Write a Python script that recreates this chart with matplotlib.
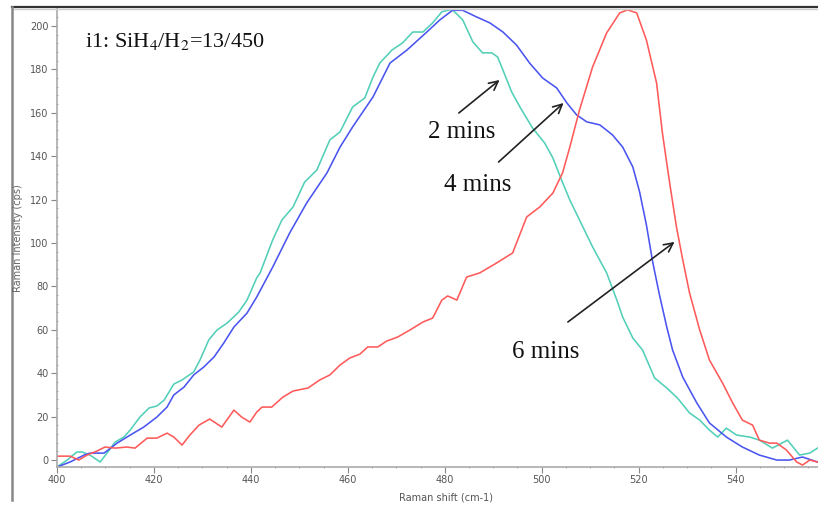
import matplotlib
matplotlib.use("Agg")
import matplotlib.pyplot as plt
from matplotlib.lines import Line2D
from matplotlib.ticker import MultipleLocator

# Raman spectra after 2, 4 and 6 minutes of deposition
shift_2min = [400.0, 402.1, 404.1, 405.2, 406.8, 408.9, 410.3, 412.0, 413.8, 415.1,
              417.1, 419.0, 420.6, 422.1, 424.1, 425.8, 428.2, 429.5, 431.3, 433.0,
              435.1, 437.5, 439.2, 441.2, 441.9, 444.5, 446.4, 448.7, 451.1, 453.6,
              456.3, 458.4, 461.0, 463.5, 465.2, 466.6, 469.1, 471.3, 473.4, 475.5,
              477.5, 479.4, 481.0, 481.6, 483.7, 485.8, 487.8, 489.7, 490.9, 492.0,
              493.8, 495.5, 498.1, 500.6, 502.3, 504.1, 505.8, 507.8, 510.5, 513.4,
              515.5, 516.7, 518.8, 520.8, 523.3, 525.8, 528.0, 530.5, 532.6, 534.6,
              536.3, 538.1, 540.2, 542.9, 544.9, 547.6, 550.7, 553.2, 555.3, 556.9]
counts_2min = [-3.2, 0.0, 3.7, 3.7, 2.3, -0.9, 3.2, 8.3, 10.6, 13.8,
               19.8, 24.0, 24.9, 27.6, 35.0, 36.9, 40.6, 46.1, 55.3, 59.9,
               63.1, 68.2, 73.7, 83.9, 86.2, 101.4, 110.6, 116.6, 128.1, 133.6,
               147.5, 151.2, 162.7, 166.8, 176.5, 182.9, 188.9, 192.2, 197.2, 197.2,
               201.4, 206.5, 207.4, 207.4, 202.8, 192.6, 187.6, 187.6, 185.7, 179.7,
               169.6, 162.7, 153.0, 146.1, 139.2, 129.0, 119.8, 110.6, 98.2, 86.2,
               73.7, 65.9, 56.2, 50.7, 37.8, 33.2, 28.6, 21.7, 18.4, 13.8,
               10.6, 14.7, 11.5, 10.6, 9.2, 5.5, 9.2, 2.3, 3.2, 5.5]

shift_4min = [400.0, 402.7, 405.6, 406.8, 409.7, 412.4, 415.1, 417.9, 420.6, 422.7,
              424.1, 426.2, 428.2, 430.3, 432.4, 434.4, 436.5, 439.2, 441.2, 444.5,
              448.0, 451.5, 455.7, 458.4, 461.0, 465.2, 468.7, 472.2, 476.3, 479.0,
              481.6, 483.7, 486.6, 489.3, 492.0, 494.8, 497.5, 500.2, 503.1, 505.2,
              507.2, 509.3, 512.0, 514.6, 516.7, 518.8, 520.2, 521.6, 522.9, 524.3,
              525.8, 527.0, 529.1, 532.0, 534.6, 538.1, 541.4, 544.9, 548.5, 551.1,
              553.8, 556.9]
counts_4min = [-3.2, -0.9, 2.3, 3.2, 3.2, 7.8, 11.5, 15.2, 19.8, 24.4,
               30.0, 33.6, 39.2, 42.9, 47.5, 53.9, 61.3, 67.7, 75.1, 88.9,
               104.6, 118.4, 132.3, 144.2, 153.5, 167.3, 182.9, 188.9, 197.2, 202.8,
               207.2, 207.2, 204.1, 201.4, 197.2, 191.2, 182.9, 176.0, 171.4, 164.5,
               159.0, 155.8, 154.4, 149.8, 144.2, 135.0, 123.5, 108.3, 91.2, 76.0,
               61.3, 50.7, 38.2, 26.3, 17.1, 10.6, 6.0, 2.3, 0.0, 0.0,
               1.4, -0.9]

shift_6min = [400.0, 402.7, 404.5, 406.2, 408.2, 409.9, 412.0, 414.4, 416.1, 418.6,
              420.6, 422.7, 424.1, 425.8, 427.4, 429.3, 431.5, 434.0, 436.5, 438.1,
              439.8, 441.2, 442.3, 444.3, 446.6, 448.7, 451.8, 454.2, 456.3, 458.4,
              460.4, 462.5, 464.1, 466.2, 468.0, 470.3, 472.8, 475.5, 477.5, 479.4,
              480.6, 482.5, 484.5, 487.2, 490.7, 494.0, 496.9, 499.6, 502.3, 504.3,
              505.8, 507.8, 510.5, 513.4, 516.1, 517.7, 519.6, 521.6, 523.7, 524.9,
              526.4, 527.8, 529.1, 530.5, 532.6, 534.6, 537.3, 539.4, 541.4, 543.5,
              544.9, 547.0, 548.5, 550.5, 552.6, 553.8, 555.3, 556.9]
counts_6min = [1.8, 1.8, 0.0, 2.3, 4.1, 6.0, 5.5, 6.0, 5.5, 10.1,
               10.1, 12.4, 10.6, 6.9, 11.5, 16.1, 18.9, 15.2, 23.0, 19.8,
               17.5, 22.1, 24.4, 24.4, 29.0, 31.8, 33.2, 36.9, 39.2, 43.8,
               47.0, 48.8, 52.1, 52.1, 54.8, 56.7, 59.9, 63.6, 65.4, 73.7,
               75.6, 73.7, 84.3, 86.2, 90.8, 95.4, 112.0, 116.6, 123.0, 132.3,
               144.2, 161.3, 181.1, 196.8, 206.0, 207.4, 206.0, 193.5, 173.7, 150.7,
               127.6, 107.4, 92.2, 77.0, 59.9, 46.1, 35.5, 26.3, 18.4, 16.1,
               9.2, 7.8, 7.8, 4.6, -0.9, -2.3, 0.0, -0.9]

x_ticks = [400, 420, 440, 460, 480, 500, 520, 540]
y_ticks = [0, 20, 40, 60, 80, 100, 120, 140, 160, 180, 200]

# labels and arrows: (text, text position, arrow tail, arrow head)
labels = ["2 mins", "4 mins", "6 mins"]
label_pos = [(483.4, 151.2), (486.8, 126.7), (500.8, 49.8)]
arrow_tail = [(482.9, 159.9), (491.1, 137.3), (505.4, 63.6)]
arrow_head = [(491.3, 175.1), (504.5, 164.5), (527.4, 100.5)]

plt.rcParams['mathtext.fontset'] = 'stix'
W, H = 818, 508
fig = plt.figure(figsize=(W / 100, H / 100), dpi=100)
fig.patch.set_facecolor("white")
ax = fig.add_axes([57 / W, 1 - 467 / H, (W - 57) / W, (467 - 9) / H])

ax.plot(shift_2min, counts_2min, color="#52cfb8", lw=1.15, solid_joinstyle="round")
ax.plot(shift_4min, counts_4min, color="#4a55f0", lw=1.15, solid_joinstyle="round")
ax.plot(shift_6min, counts_6min, color="#ff5a5a", lw=1.15, solid_joinstyle="round")

ax.set_xlim(400, 557)
ax.set_ylim(-3.2, 207.8)
ax.set_xticks(x_ticks)
ax.set_yticks(y_ticks)
ax.xaxis.set_minor_locator(MultipleLocator(5))
ax.yaxis.set_minor_locator(MultipleLocator(4))

tick_font = ["Liberation Sans Narrow", "DejaVu Sans"]
for lab in ax.get_xticklabels() + ax.get_yticklabels():
    lab.set_family(tick_font)
ax.tick_params(axis="both", which="major", labelsize=7, labelcolor="#555555",
               color="#888888", length=4, width=0.8, direction="out", pad=2)
ax.tick_params(axis="both", which="minor", color="#999999", length=2, width=0.6,
               direction="inout")
for side in ("top", "right"):
    ax.spines[side].set_visible(False)
for side in ("left", "bottom"):
    ax.spines[side].set_color("#aaaaaa")
    ax.spines[side].set_linewidth(1.2)

fig.text(18 / W, 1 - 238 / H, "Raman Intensity (cps)", rotation=90, ha="center",
         va="center", fontsize=7, color="#666666", family=tick_font)
fig.text(446 / W, 1 - 497 / H, "Raman shift (cm-1)", ha="center", va="center",
         fontsize=7, color="#555555", family=tick_font)

fig.text(85 / W, 1 - 42 / H, "i1: SiH$_4$/H$_2$=13/450", ha="left", va="center",
         fontsize=16, color="#111111", family="Liberation Serif")

for text, pos, tail, head in zip(labels, label_pos, arrow_tail, arrow_head):
    ax.text(pos[0], pos[1], text, ha="center", va="center", fontsize=18,
            color="#111111", family="Liberation Serif")
    ax.annotate("", xy=head, xytext=tail,
                arrowprops=dict(arrowstyle="->", color="#222222", lw=1.2,
                                mutation_scale=16, shrinkA=0, shrinkB=0))

# outer frame: dark top rule and grey left rule
fig.add_artist(Line2D([12 / W, 1], [1 - 7 / H, 1 - 7 / H], color="#333333", lw=1.6))
fig.add_artist(Line2D([12 / W, 1], [1 - 9 / H, 1 - 9 / H], color="#cccccc", lw=1.0))
fig.add_artist(Line2D([12 / W, 12 / W], [1 - 7 / H, 1 - 500 / H], color="#888888", lw=1.8))

fig.savefig("out.png", dpi=100)
